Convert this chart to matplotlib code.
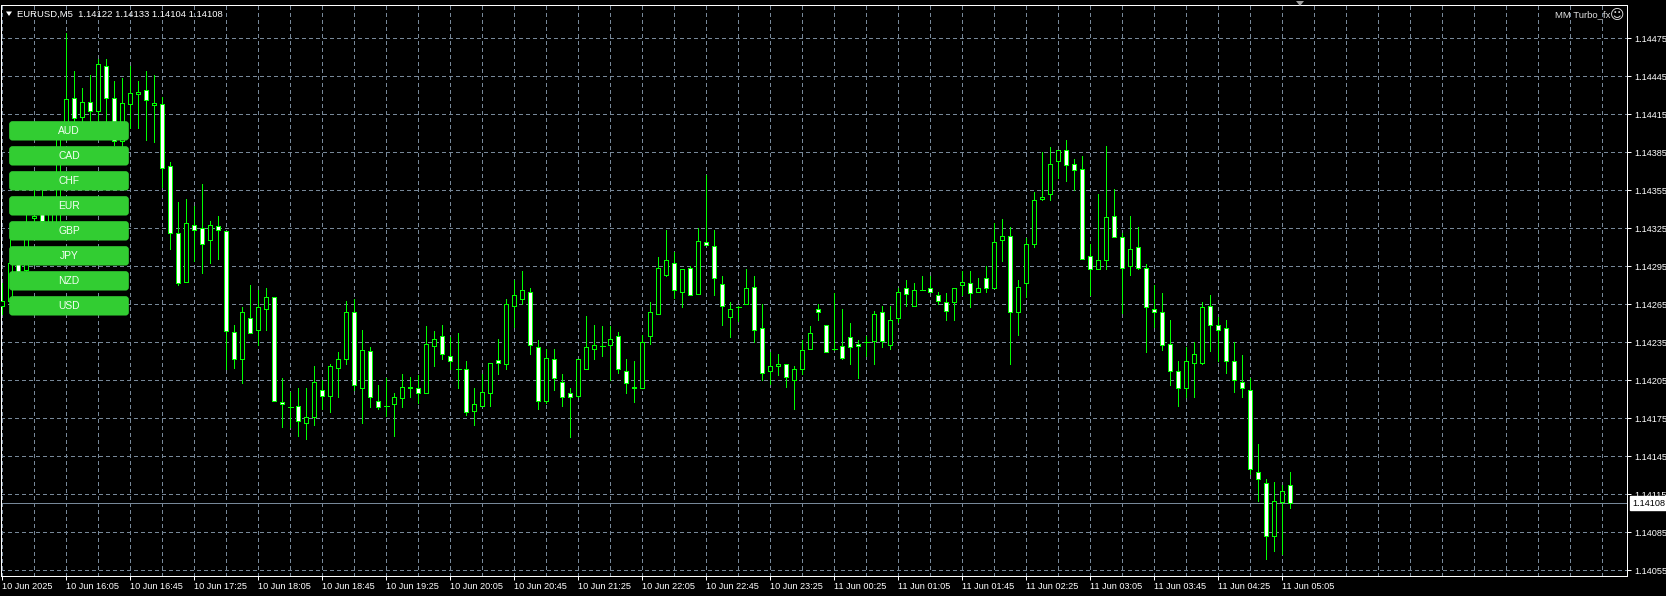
import matplotlib
matplotlib.use('Agg')
import matplotlib.pyplot as plt
from matplotlib.patches import Rectangle, Polygon, FancyBboxPatch
from matplotlib.transforms import blended_transform_factory

plt.rcParams['font.family'] = ['Liberation Sans', 'DejaVu Sans']

# EURUSD M5 bars, oldest first
opens = [
    1.14264, 1.14268, 1.14298, 1.14292, 1.14333, 1.14337, 1.14330, 1.14328, 1.14399, 1.14428,
    1.14413, 1.14425, 1.14418, 1.14453, 1.14428, 1.14394, 1.14423, 1.14431, 1.14434, 1.14422,
    1.14423, 1.14374, 1.14321, 1.14283, 1.14328, 1.14325, 1.14316, 1.14327, 1.14323, 1.14243,
    1.14222, 1.14254, 1.14245, 1.14261, 1.14271, 1.14188, 1.14184, 1.14185, 1.14171, 1.14176,
    1.14197, 1.14193, 1.14215, 1.14222, 1.14259, 1.14199, 1.14228, 1.14189, 1.14185, 1.14186,
    1.14191, 1.14200, 1.14199, 1.14195, 1.14232, 1.14240, 1.14224, 1.14214, 1.14214, 1.14181,
    1.14185, 1.14195, 1.14221, 1.14218, 1.14264, 1.14269, 1.14275, 1.14231, 1.14189, 1.14222,
    1.14204, 1.14195, 1.14193, 1.14214, 1.14230, 1.14232, 1.14233, 1.14240, 1.14212, 1.14200,
    1.14199, 1.14240, 1.14257, 1.14288, 1.14298, 1.14275, 1.14294, 1.14273, 1.14314, 1.14311,
    1.14281, 1.14255, 1.14263, 1.14265, 1.14279, 1.14246, 1.14212, 1.14216, 1.14218, 1.14205,
    1.14214, 1.14230, 1.14261, 1.14249, 1.14230, 1.14232, 1.14239, 1.14234, 1.14235, 1.14236,
    1.14259, 1.14233, 1.14254, 1.14278, 1.14264, 1.14276, 1.14278, 1.14272, 1.14267, 1.14267,
    1.14280, 1.14282, 1.14275, 1.14286, 1.14278, 1.14316, 1.14319, 1.14259, 1.14282, 1.14313,
    1.14348, 1.14352, 1.14378, 1.14387, 1.14376, 1.14372, 1.14303, 1.14293, 1.14300, 1.14335,
    1.14318, 1.14295, 1.14310, 1.14294, 1.14261, 1.14259, 1.14234, 1.14212, 1.14199, 1.14219,
    1.14219, 1.14264, 1.14249, 1.14246, 1.14220, 1.14204, 1.14197, 1.14133, 1.14124, 1.14082,
    1.14109, 1.14122,
]
highs = [
    1.14282, 1.14318, 1.14308, 1.14337, 1.14357, 1.14359, 1.14347, 1.14403, 1.14479, 1.14449,
    1.14436, 1.14446, 1.14459, 1.14459, 1.14441, 1.14444, 1.14453, 1.14441, 1.14449, 1.14446,
    1.14429, 1.14377, 1.14346, 1.14348, 1.14343, 1.14360, 1.14331, 1.14335, 1.14323, 1.14249,
    1.14263, 1.14280, 1.14276, 1.14278, 1.14271, 1.14207, 1.14196, 1.14199, 1.14199, 1.14216,
    1.14205, 1.14218, 1.14227, 1.14268, 1.14269, 1.14245, 1.14231, 1.14201, 1.14207, 1.14195,
    1.14210, 1.14208, 1.14209, 1.14248, 1.14244, 1.14249, 1.14239, 1.14242, 1.14220, 1.14199,
    1.14210, 1.14219, 1.14238, 1.14269, 1.14284, 1.14291, 1.14278, 1.14237, 1.14230, 1.14230,
    1.14210, 1.14199, 1.14222, 1.14256, 1.14249, 1.14248, 1.14248, 1.14243, 1.14222, 1.14220,
    1.14241, 1.14267, 1.14302, 1.14324, 1.14306, 1.14293, 1.14295, 1.14325, 1.14367, 1.14324,
    1.14287, 1.14267, 1.14264, 1.14293, 1.14287, 1.14265, 1.14227, 1.14226, 1.14218, 1.14216,
    1.14237, 1.14248, 1.14265, 1.14249, 1.14274, 1.14261, 1.14250, 1.14237, 1.14240, 1.14260,
    1.14264, 1.14264, 1.14278, 1.14284, 1.14282, 1.14287, 1.14287, 1.14275, 1.14274, 1.14278,
    1.14291, 1.14291, 1.14286, 1.14295, 1.14329, 1.14332, 1.14326, 1.14284, 1.14317, 1.14354,
    1.14385, 1.14389, 1.14387, 1.14395, 1.14380, 1.14382, 1.14313, 1.14352, 1.14390, 1.14356,
    1.14321, 1.14335, 1.14326, 1.14297, 1.14280, 1.14274, 1.14253, 1.14220, 1.14231, 1.14235,
    1.14267, 1.14272, 1.14255, 1.14253, 1.14235, 1.14225, 1.14207, 1.14155, 1.14127, 1.14125,
    1.14122, 1.14133,
]
lows = [
    1.14257, 1.14267, 1.14280, 1.14288, 1.14328, 1.14324, 1.14320, 1.14325, 1.14395, 1.14407,
    1.14407, 1.14408, 1.14407, 1.14410, 1.14391, 1.14388, 1.14404, 1.14404, 1.14395, 1.14393,
    1.14358, 1.14309, 1.14280, 1.14283, 1.14299, 1.14290, 1.14298, 1.14301, 1.14214, 1.14215,
    1.14203, 1.14242, 1.14233, 1.14245, 1.14189, 1.14168, 1.14168, 1.14161, 1.14159, 1.14170,
    1.14182, 1.14180, 1.14192, 1.14218, 1.14197, 1.14171, 1.14184, 1.14182, 1.14177, 1.14161,
    1.14184, 1.14192, 1.14187, 1.14195, 1.14216, 1.14222, 1.14214, 1.14199, 1.14178, 1.14170,
    1.14185, 1.14185, 1.14210, 1.14214, 1.14247, 1.14265, 1.14226, 1.14182, 1.14187, 1.14197,
    1.14185, 1.14160, 1.14192, 1.14214, 1.14222, 1.14224, 1.14205, 1.14211, 1.14195, 1.14188,
    1.14199, 1.14234, 1.14257, 1.14287, 1.14270, 1.14263, 1.14272, 1.14273, 1.14312, 1.14272,
    1.14249, 1.14239, 1.14252, 1.14265, 1.14235, 1.14205, 1.14202, 1.14209, 1.14200, 1.14182,
    1.14210, 1.14230, 1.14253, 1.14227, 1.14229, 1.14222, 1.14218, 1.14207, 1.14224, 1.14218,
    1.14231, 1.14230, 1.14251, 1.14264, 1.14264, 1.14276, 1.14275, 1.14265, 1.14253, 1.14253,
    1.14272, 1.14263, 1.14275, 1.14275, 1.14278, 1.14299, 1.14218, 1.14241, 1.14271, 1.14310,
    1.14347, 1.14347, 1.14365, 1.14362, 1.14355, 1.14301, 1.14272, 1.14293, 1.14293, 1.14318,
    1.14258, 1.14288, 1.14293, 1.14227, 1.14247, 1.14229, 1.14201, 1.14185, 1.14192, 1.14192,
    1.14218, 1.14228, 1.14220, 1.14211, 1.14196, 1.14192, 1.14131, 1.14110, 1.14064, 1.14070,
    1.14068, 1.14104,
]
closes = [
    1.14268, 1.14298, 1.14290, 1.14328, 1.14335, 1.14331, 1.14336, 1.14399, 1.14427, 1.14412,
    1.14425, 1.14418, 1.14455, 1.14428, 1.14394, 1.14424, 1.14432, 1.14433, 1.14426, 1.14424,
    1.14373, 1.14321, 1.14282, 1.14329, 1.14324, 1.14313, 1.14328, 1.14324, 1.14244, 1.14222,
    1.14259, 1.14242, 1.14263, 1.14271, 1.14189, 1.14186, 1.14184, 1.14173, 1.14176, 1.14204,
    1.14193, 1.14216, 1.14222, 1.14259, 1.14201, 1.14229, 1.14192, 1.14184, 1.14185, 1.14192,
    1.14200, 1.14199, 1.14195, 1.14234, 1.14238, 1.14226, 1.14220, 1.14214, 1.14180, 1.14186,
    1.14196, 1.14219, 1.14219, 1.14265, 1.14272, 1.14276, 1.14233, 1.14189, 1.14223, 1.14207,
    1.14192, 1.14192, 1.14222, 1.14231, 1.14233, 1.14232, 1.14238, 1.14214, 1.14203, 1.14199,
    1.14235, 1.14259, 1.14294, 1.14300, 1.14276, 1.14293, 1.14272, 1.14315, 1.14312, 1.14286,
    1.14264, 1.14261, 1.14263, 1.14278, 1.14245, 1.14211, 1.14216, 1.14218, 1.14208, 1.14214,
    1.14229, 1.14242, 1.14259, 1.14227, 1.14230, 1.14223, 1.14231, 1.14232, 1.14235, 1.14257,
    1.14236, 1.14253, 1.14275, 1.14273, 1.14276, 1.14276, 1.14275, 1.14268, 1.14260, 1.14278,
    1.14283, 1.14274, 1.14278, 1.14278, 1.14314, 1.14319, 1.14259, 1.14279, 1.14313, 1.14347,
    1.14350, 1.14376, 1.14387, 1.14375, 1.14371, 1.14301, 1.14293, 1.14300, 1.14334, 1.14318,
    1.14294, 1.14309, 1.14294, 1.14263, 1.14259, 1.14233, 1.14212, 1.14199, 1.14220, 1.14226,
    1.14263, 1.14249, 1.14245, 1.14220, 1.14205, 1.14199, 1.14135, 1.14127, 1.14082, 1.14110,
    1.14118, 1.14108,
]

time_labels = [
    '10 Jun 2025', '10 Jun 16:05', '10 Jun 16:45', '10 Jun 17:25', '10 Jun 18:05',
    '10 Jun 18:45', '10 Jun 19:25', '10 Jun 20:05', '10 Jun 20:45', '10 Jun 21:25',
    '10 Jun 22:05', '10 Jun 22:45', '10 Jun 23:25', '11 Jun 00:25', '11 Jun 01:05',
    '11 Jun 01:45', '11 Jun 02:25', '11 Jun 03:05', '11 Jun 03:45', '11 Jun 04:25',
    '11 Jun 05:05',
]
price_ticks = [1.14055, 1.14085, 1.14115, 1.14145, 1.14175, 1.14205, 1.14235, 1.14265,
               1.14295, 1.14325, 1.14355, 1.14385, 1.14415, 1.14445, 1.14475]
currencies = ['AUD', 'CAD', 'CHF', 'EUR', 'GBP', 'JPY', 'NZD', 'USD']
symbol = 'EURUSD,M5'
indicator_name = 'MM Turbo_fx'

W, H = 1666, 596
GREEN = '#00ff00'
GRID = '#778899'
PX = 72.0 / 100  # one pixel in points
DASH = (0, (3, 3))


def fx(x):
    return x / W


def fy(y):
    return 1 - y / H


fig = plt.figure(figsize=(W / 100, H / 100), dpi=100, facecolor='black')
ax = fig.add_axes([fx(1), fy(576), (1627 - 1) / W, (576 - 5) / H])
ax.set_facecolor('black')

# candles: white body = bear, black body = bull
for i, (o, h, l, c) in enumerate(zip(opens, highs, lows, closes)):
    ax.vlines(i, l, h, color=GREEN, lw=PX, antialiased=False, zorder=3)
    if abs(c - o) < 1e-9:
        ax.hlines(o, i - 0.3, i + 0.3, color=GREEN, lw=PX, antialiased=False, zorder=4)
    else:
        face = 'white' if c < o else 'black'
        ax.add_patch(Rectangle((i - 0.26, min(o, c)), 0.52, abs(c - o), facecolor=face,
                               edgecolor=GREEN, lw=PX, antialiased=False, zorder=4))

n = len(closes)
ax.set_xlim(-0.16, 203.1)
ax.set_ylim(1.140505, 1.145013)

ax.set_xticks(list(range(0, n, 8)))
ax.set_xticklabels(time_labels)
ax.set_xticks(list(range(0, 204, 4)), minor=True)
ax.set_yticks(price_ticks)
ax.set_yticklabels(['%.5f' % p for p in price_ticks])
ax.yaxis.tick_right()

ax.tick_params(axis='x', which='major', colors='white', direction='out', length=3, width=PX,
               pad=1.2, labelsize=6.6)
ax.tick_params(axis='x', which='minor', length=0)
ax.tick_params(axis='y', colors='white', direction='out', length=3, width=PX, pad=2.2,
               labelsize=6.6)
for lbl in ax.get_xticklabels():
    lbl.set_ha('left')

ax.grid(True, which='both', axis='x', color=GRID, lw=PX, ls=DASH, antialiased=False, zorder=1)
ax.grid(True, which='major', axis='y', color=GRID, lw=PX, ls=DASH, antialiased=False, zorder=1)
ax.set_axisbelow(True)
for sp in ax.spines.values():
    sp.set_color('white')
    sp.set_linewidth(PX)

# bid line and price box
last = closes[-1]
ax.axhline(last, color=GRID, lw=PX, antialiased=False, zorder=2)
tr = blended_transform_factory(fig.transFigure, ax.transData)
ax.text(fx(1632), last, '%.5f' % last, transform=tr, fontsize=6.6, color='black',
        va='center', ha='left', clip_on=False, zorder=10,
        bbox=dict(boxstyle='square,pad=0.25', facecolor='white', edgecolor='white'))

# header texts
fig.text(fx(17), fy(14), '%s  %.5f %.5f %.5f %.5f' % (symbol, opens[-1], highs[-1], lows[-1], closes[-1]),
         fontsize=6.8, color='white', va='center', ha='left')
fig.add_artist(Polygon([(fx(6), fy(11.5)), (fx(12), fy(11.5)), (fx(9), fy(16))], closed=True,
                       facecolor='white', edgecolor='none', transform=fig.transFigure))
fig.text(fx(1610), fy(15), indicator_name, fontsize=6.8, color='#e0e0e0',
         va='center', ha='right')
fig.text(fx(1617), fy(14.5), '\u263a', fontsize=10, color='#e0e0e0', family='DejaVu Sans',
         va='center', ha='center')
fig.add_artist(Polygon([(fx(1296), fy(1)), (fx(1304), fy(1)), (fx(1300), fy(6))], closed=True,
                       facecolor='#a0a0a0', edgecolor='none', transform=fig.transFigure))

# currency buttons
for k, name in enumerate(currencies):
    top = 121 + 25 * k
    fig.add_artist(FancyBboxPatch((fx(10), fy(top + 18.7)), 118 / W, 17.7 / H,
                                  boxstyle='round,pad=0,rounding_size=0.0015',
                                  mutation_aspect=W / H, facecolor='#32cd32',
                                  edgecolor='#32cd32', lw=1.2, transform=fig.transFigure, zorder=20))
    fig.text(fx(69), fy(top + 10), name, fontsize=7.4, color='#f4fff4', ha='center',
             va='center', zorder=21)

fig.savefig('out.png', dpi=100, facecolor='black')
